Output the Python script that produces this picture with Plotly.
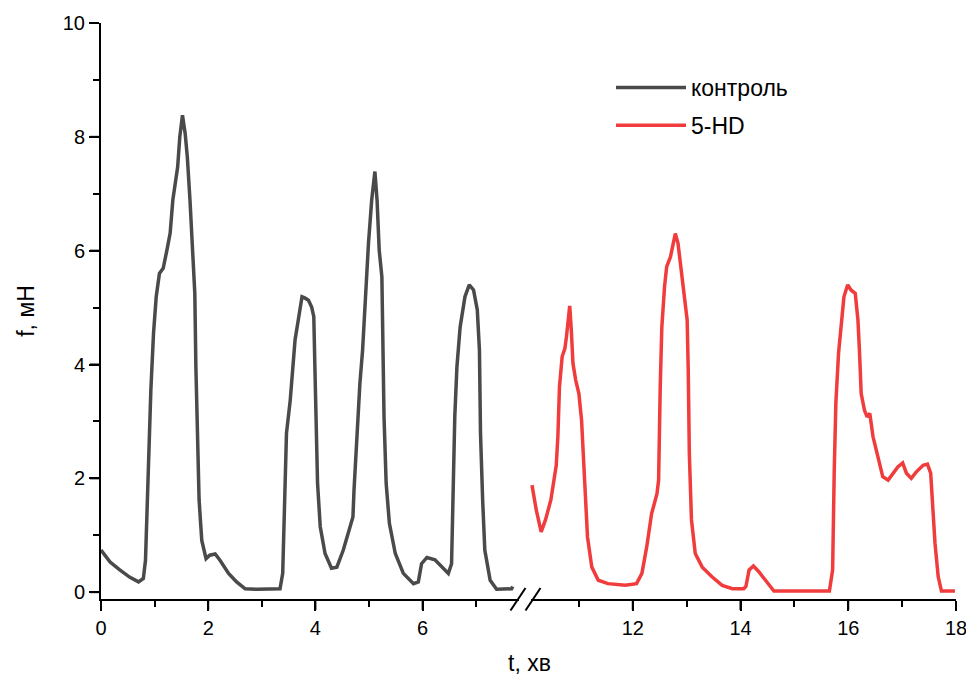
import plotly.graph_objects as go

# control trace (left segment of the broken time axis)
t_control = [0.00, 0.17, 0.35, 0.54, 0.70, 0.79, 0.83, 0.86, 0.90, 0.93, 0.98, 1.03, 1.09, 1.16,
             1.23, 1.29, 1.34, 1.38, 1.43, 1.47, 1.52, 1.57, 1.61, 1.66, 1.71, 1.75, 1.77, 1.80,
             1.83, 1.88, 1.96, 2.03, 2.13, 2.22, 2.38, 2.53, 2.69, 2.90, 3.15, 3.34, 3.39, 3.42,
             3.46, 3.53, 3.58, 3.62, 3.69, 3.75, 3.80, 3.87, 3.93, 3.97, 3.99, 4.01, 4.04, 4.09,
             4.18, 4.30, 4.40, 4.52, 4.61, 4.70, 4.72, 4.77, 4.83, 4.88, 4.93, 4.99, 5.05, 5.11,
             5.15, 5.19, 5.24, 5.26, 5.28, 5.32, 5.38, 5.49, 5.64, 5.83, 5.92, 5.98, 6.08, 6.23,
             6.36, 6.48, 6.54, 6.57, 6.60, 6.64, 6.70, 6.79, 6.87, 6.95, 7.02, 7.06, 7.08, 7.12,
             7.16, 7.26, 7.38, 7.66, 7.68]
f_control = [0.74, 0.53, 0.39, 0.26, 0.18, 0.24, 0.56, 1.62, 2.79, 3.55, 4.55, 5.19, 5.60, 5.69,
             6.01, 6.31, 6.89, 7.12, 7.47, 8.00, 8.38, 8.06, 7.65, 6.89, 6.01, 5.25, 3.96, 2.79,
             1.62, 0.91, 0.59, 0.65, 0.67, 0.56, 0.33, 0.18, 0.06, 0.05, 0.05, 0.06, 0.33, 1.62,
             2.79, 3.37, 3.96, 4.43, 4.84, 5.19, 5.17, 5.13, 5.01, 4.84, 3.96, 2.79, 1.91, 1.15,
             0.68, 0.42, 0.44, 0.74, 1.03, 1.32, 1.79, 2.79, 3.67, 4.25, 5.13, 6.13, 6.89, 7.39,
             6.89, 6.01, 5.54, 4.55, 3.08, 1.91, 1.21, 0.68, 0.33, 0.15, 0.18, 0.50, 0.61, 0.57,
             0.44, 0.33, 0.50, 1.91, 3.08, 3.96, 4.66, 5.19, 5.40, 5.31, 4.96, 4.25, 2.79, 1.62,
             0.74, 0.21, 0.05, 0.06, 0.10]

# 5-HD trace (right segment)
t_5hd = [10.13, 10.21, 10.30, 10.38, 10.48, 10.58, 10.61, 10.64, 10.69, 10.74, 10.77, 10.80,
         10.83, 10.86, 10.89, 10.94, 11.00, 11.05, 11.08, 11.11, 11.16, 11.24, 11.36, 11.54,
         11.86, 12.07, 12.17, 12.26, 12.35, 12.45, 12.48, 12.51, 12.54, 12.59, 12.63, 12.70,
         12.76, 12.79, 12.84, 12.88, 12.94, 13.01, 13.03, 13.05, 13.09, 13.16, 13.29, 13.47,
         13.66, 13.85, 14.06, 14.10, 14.16, 14.24, 14.34, 14.47, 14.62, 15.65, 15.71, 15.74,
         15.77, 15.82, 15.87, 15.92, 15.99, 16.05, 16.13, 16.18, 16.21, 16.24, 16.30, 16.35,
         16.40, 16.46, 16.55, 16.64, 16.74, 16.83, 16.92, 17.01, 17.08, 17.17, 17.26, 17.39,
         17.47, 17.53, 17.56, 17.61, 17.67, 17.73, 17.98]
f_5hd = [1.88, 1.44, 1.06, 1.27, 1.62, 2.23, 2.73, 3.61, 4.14, 4.28, 4.49, 4.78,
         5.03, 4.60, 4.02, 3.73, 3.49, 3.02, 2.44, 1.85, 0.97, 0.44, 0.21, 0.15,
         0.12, 0.15, 0.33, 0.80, 1.38, 1.73, 1.97, 3.61, 4.66, 5.37, 5.72, 5.89,
         6.19, 6.30, 6.13, 5.78, 5.37, 4.78, 3.90, 2.44, 1.27, 0.68, 0.44, 0.27,
         0.12, 0.06, 0.06, 0.10, 0.39, 0.46, 0.36, 0.21, 0.02, 0.02, 0.39, 2.14,
         3.32, 4.20, 4.78, 5.19, 5.40, 5.31, 5.25, 4.78, 4.20, 3.49, 3.20, 3.08,
         3.14, 2.73, 2.38, 2.03, 1.97, 2.09, 2.20, 2.27, 2.09, 2.00, 2.11, 2.23,
         2.25, 2.09, 1.56, 0.86, 0.27, 0.02, 0.02]

left_ticks = [0, 2, 4, 6]
left_minor = [1, 3, 5, 7]
right_ticks = [12, 14, 16, 18]
right_minor = [11, 13, 15, 17]
y_ticks = [0, 2, 4, 6, 8, 10]
y_minor = [1, 3, 5, 7, 9]

FONT = "Liberation Sans, Arial, sans-serif"
GRAY = "#4a4a4a"
RED = "#f03c3c"
split = (525 - 101) / 855

fig = go.Figure()
fig.add_trace(go.Scatter(x=t_control, y=f_control, mode="lines", name="контроль",
                         legendgroup="a", line=dict(color=GRAY, width=3.5),
                         xaxis="x", yaxis="y"))
fig.add_trace(go.Scatter(x=t_5hd, y=f_5hd, mode="lines", name="5-HD",
                         legendgroup="b", line=dict(color=RED, width=3.5),
                         xaxis="x2", yaxis="y"))

axis_common = dict(showline=True, linecolor="black", linewidth=2, ticks="outside",
                   ticklen=10, tickwidth=2, tickcolor="black",
                   showgrid=False, zeroline=False, automargin=False,
                   ticklabeloverflow="allow",
                   tickfont=dict(size=20, color="black"))


def minor(vals):
    return dict(tickvals=vals, ticks="outside", ticklen=6, tickwidth=2, tickcolor="black")


# page body adds 8px around the figure, so the figure is 16px smaller
fig.update_layout(
    width=958, height=670,
    margin=dict(l=93, r=10, t=15, b=79),
    plot_bgcolor="white", paper_bgcolor="white",
    font=dict(family=FONT, color="black"),
    xaxis=dict(domain=[0, split], range=[0, 7.91], tickvals=left_ticks, anchor="y",
               minor=minor(left_minor), **axis_common),
    xaxis2=dict(domain=[split, 1], range=[10, 18], tickvals=right_ticks, anchor="y",
                minor=minor(right_minor), **axis_common),
    yaxis=dict(range=[-0.12, 10], tickvals=y_ticks, anchor="x", minor=minor(y_minor),
               title=dict(text="f, мН", font=dict(size=23), standoff=22),
               **axis_common),
    legend=dict(x=(611 - 101) / 855, y=(599 - 66) / 576, xanchor="left", yanchor="top",
                font=dict(size=23, color="black"), itemwidth=70, tracegroupgap=5,
                bgcolor="rgba(0,0,0,0)"),
)

# major tick marks, placed on the axes' own scales with a fixed pixel length
tick_line = dict(color="black", width=2)
for ref, vals in (("x", left_ticks), ("x2", right_ticks)):
    for v in vals:
        fig.add_shape(type="line", xref=ref, yref="paper", x0=v, x1=v,
                      ysizemode="pixel", yanchor=0, y0=0, y1=-11,
                      line=tick_line, layer="above", opacity=1)
for v in y_ticks:
    fig.add_shape(type="line", xref="paper", yref="y", y0=v, y1=v,
                  xsizemode="pixel", xanchor=0, x0=0, x1=-11,
                  line=tick_line, layer="above", opacity=1)

# x title centred under the whole broken axis
fig.add_annotation(text="t, хв", xref="paper", yref="paper", x=(529 - 101) / 855,
                   y=(599 - 663) / 576, showarrow=False, font=dict(size=23),
                   xanchor="center", yanchor="middle")


# axis break marks
def px(xp):
    return (xp - 101) / 855


def py(yp):
    return (599 - yp) / 576


fig.add_shape(type="rect", xref="paper", yref="paper", x0=px(519), x1=px(531),
              y0=py(602), y1=py(596), fillcolor="white", line=dict(width=0),
              layer="above", opacity=1)
for cx in (518, 533):
    fig.add_shape(type="line", xref="paper", yref="paper", x0=px(cx - 7.5), y0=py(610.5),
                  x1=px(cx + 7.5), y1=py(588), line=dict(color="black", width=2),
                  layer="above", opacity=1)

fig.write_html("out.html")
